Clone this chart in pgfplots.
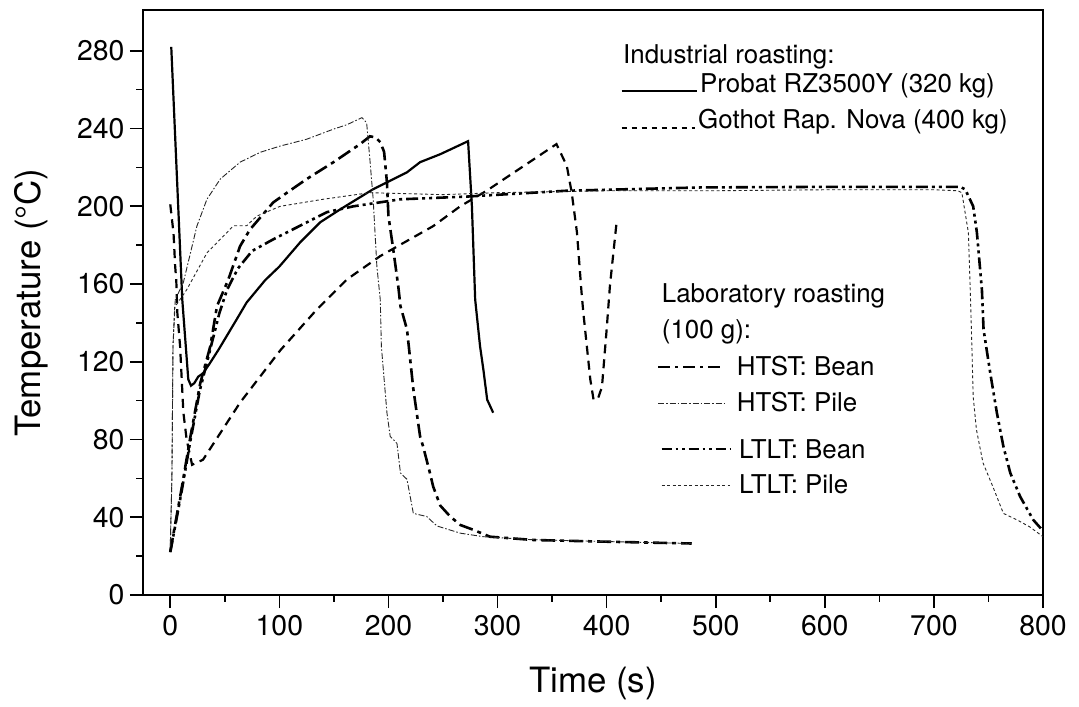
\documentclass[border=0pt]{standalone}
\usepackage{fontspec}
\setmainfont{TeX Gyre Heros}
\usepackage{pgfplots}
\pgfplotsset{compat=1.18}

% line styles of the six temperature profiles
\tikzset{
  probat/.style={line width=2.2bp, black},
  gothot/.style={line width=2.2bp, black, dash pattern=on 9bp off 6bp},
  htstbean/.style={line width=2.6bp, black, dash pattern=on 14bp off 5bp on 4bp off 5bp},
  htstpile/.style={line width=0.9bp, black!85, dash pattern=on 6bp off 2bp on 1.5bp off 2bp},
  ltltbean/.style={line width=2.6bp, black, dash pattern=on 12bp off 4bp on 3bp off 4bp on 3bp off 4bp},
  ltltpile/.style={line width=0.9bp, black!85, dash pattern=on 3bp off 2.5bp},
}

\begin{document}
\begin{tikzpicture}
\useasboundingbox (-143bp,-112bp) rectangle (936bp,595bp);
\begin{axis}[
  at={(0,0)}, anchor=south west,
  scale only axis, width=900bp, height=585bp,
  xmin=-25, xmax=800, ymin=0, ymax=301,
  xtick={0,100,...,800}, ytick={0,40,...,280},
  minor x tick num=1, minor y tick num=1,
  tick pos=left, tick align=outside,
  major tick length=13bp, minor tick length=6.5bp,
  every tick/.style={black, line width=1.6bp},
  axis line style={line width=1.8bp},
  /pgf/number format/assume math mode=true,
  tick label style={font=\fontsize{28.5}{34}\selectfont},
  xticklabel style={yshift=-4bp},
  yticklabel style={xshift=-2bp},
  xlabel={Time (s)}, ylabel={Temperature (°C)},
  label style={font=\fontsize{35}{42}\selectfont},
  xlabel style={at={(axis description cs:0.5,-0.1231)}, anchor=north, inner sep=0pt},
  ylabel style={at={(axis description cs:-0.1056,0.5)}, anchor=south, inner sep=0pt},
]
% Probat RZ3500Y (320 kg)
\addplot[probat] table {
x y
0.9 282
11 152
16.5 111
19 107.7
22 109
25.7 112.4
30 114
36 119
44 126
52 133.5
60 141
70 150.5
87 162
100 169
119 181.4
137.5 191.8
156 198.5
186 208.8
217 217.5
229 222.7
247.5 226.8
273 233.5
276.5 200
279.5 152
284 127.8
287 116
290.5 100.5
296 93.8
};
% Gothot Rapido Nova (400 kg)
\addplot[gothot] table {
x y
0 201
3 186
4.5 169
5.5 162
6.5 145
9 128
12 94
15 80
20 67
30 69.6
64 99
101 126
134.5 147
162 162.4
192.5 174.4
241 189.8
265.8 200
290 208
354 232
363.5 220.8
368 207
372.8 186.5
377 155.6
378.7 145
385 111
388 100.5
392 101
395.7 107
400 136.6
403 159
409.4 193.3
};
% HTST: bean
\addplot[htstbean] table {
x y
0 22.3
10.7 55.8
18 80
27.5 109
36.7 128
42.8 148.6
53 162
64 179.5
73 188
94.4 202
107 207
125 214
149.6 222.7
174 232
183 236
188 235.5
192.5 233
196 228
198.6 212.4
200 195
204.4 177.8
209 158.8
211 148.6
217 136.6
222.8 106
229 81.6
232 76
238 62.8
241 55.8
247.5 46
256.6 40.4
266 36
278 33.5
293 30
333 28.3
394 27.5
478 26.5
};
% HTST: pile
\addplot[htstpile] table {
x y
0 25
1.5 60
2.5 128
4.6 152
12 160.8
24.4 189.8
33.6 203.6
45.8 214
64 222.7
82.5 227.8
100.8 231
125 234.5
149.6 239.7
162 242
175.7 245.6
180 243
183 224
186 203.6
189.4 169
192.5 152
193.5 128
198.6 93.8
201.6 81.6
204.4 80
207.8 78
211 62.8
217 59.5
222.8 42
235 40.4
244.5 35.5
266 31.8
287 30
330 28.5
400 27.5
478 26.5
};
% LTLT: bean
\addplot[ltltbean] table {
x y
0 22
10 52
18 78
27 105
36 125
45 145
52 157
62 168
75 177
94.4 183
119 190
143.6 197
168 200
211 203.6
272 205
363 208
486 209.7
600 210
724 210
728.7 208.7
736 200
739.4 186.5
744 157
745.5 136.6
751.6 114.4
757.7 93.8
763.7 76.4
770 62.8
779 50.7
791 38.7
800 33
};
% LTLT: pile
\addplot[ltltpile] table {
x y
0 25
1.5 60
2.5 128
4 148
15 157
33.6 176
45.8 183
58 190
70 190
79.5 195
100.8 200
140 203.6
183 207
250 206
300 207
400 208
500 208
600 208.5
700 208.5
722 208
725.6 207
731.6 186.5
733.3 157
734.8 128
736 102
739 85
745 68
754 55.8
763.7 42
776 38.7
788 35
800 30
};
\end{axis}

% key
\begin{scope}[every node/.style={inner sep=0pt, anchor=base west, font=\fontsize{26}{31}\selectfont}]
  \node at (480bp,531.7bp) {Industrial roasting:};
  \draw[probat, line width=1.8bp] (478.7bp,504.3bp) -- (553.7bp,504.3bp);
  \node at (557bp,502.3bp) {Probat RZ3500Y (320 kg)};
  \draw[gothot, line width=1.6bp, dash pattern=on 5bp off 5bp] (478.7bp,466.7bp) -- (552bp,466.7bp);
  \node at (555bp,466.7bp) {Gothot Rap. Nova (400 kg)};

  \node at (518.7bp,292bp) {Laboratory roasting};
  \node at (518.7bp,256.7bp) {(100 g):};
  \draw[htstbean, line width=1.8bp, dash pattern=on 12bp off 5bp on 3bp off 5bp] (515bp,227.7bp) -- (581bp,227.7bp);
  \node at (593.7bp,219.3bp) {HTST: Bean};
  \draw[htstpile] (515bp,191.7bp) -- (581bp,191.7bp);
  \node at (593.7bp,183.3bp) {HTST: Pile};
  \draw[ltltbean, line width=1.8bp, dash pattern=on 10bp off 4bp on 2.5bp off 4bp on 2.5bp off 4bp] (518.7bp,145.7bp) -- (587bp,145.7bp);
  \node at (596bp,136.7bp) {LTLT: Bean};
  \draw[ltltpile] (518.7bp,110bp) -- (587bp,110bp);
  \node at (596bp,101bp) {LTLT: Pile};
\end{scope}
\end{tikzpicture}
\end{document}
